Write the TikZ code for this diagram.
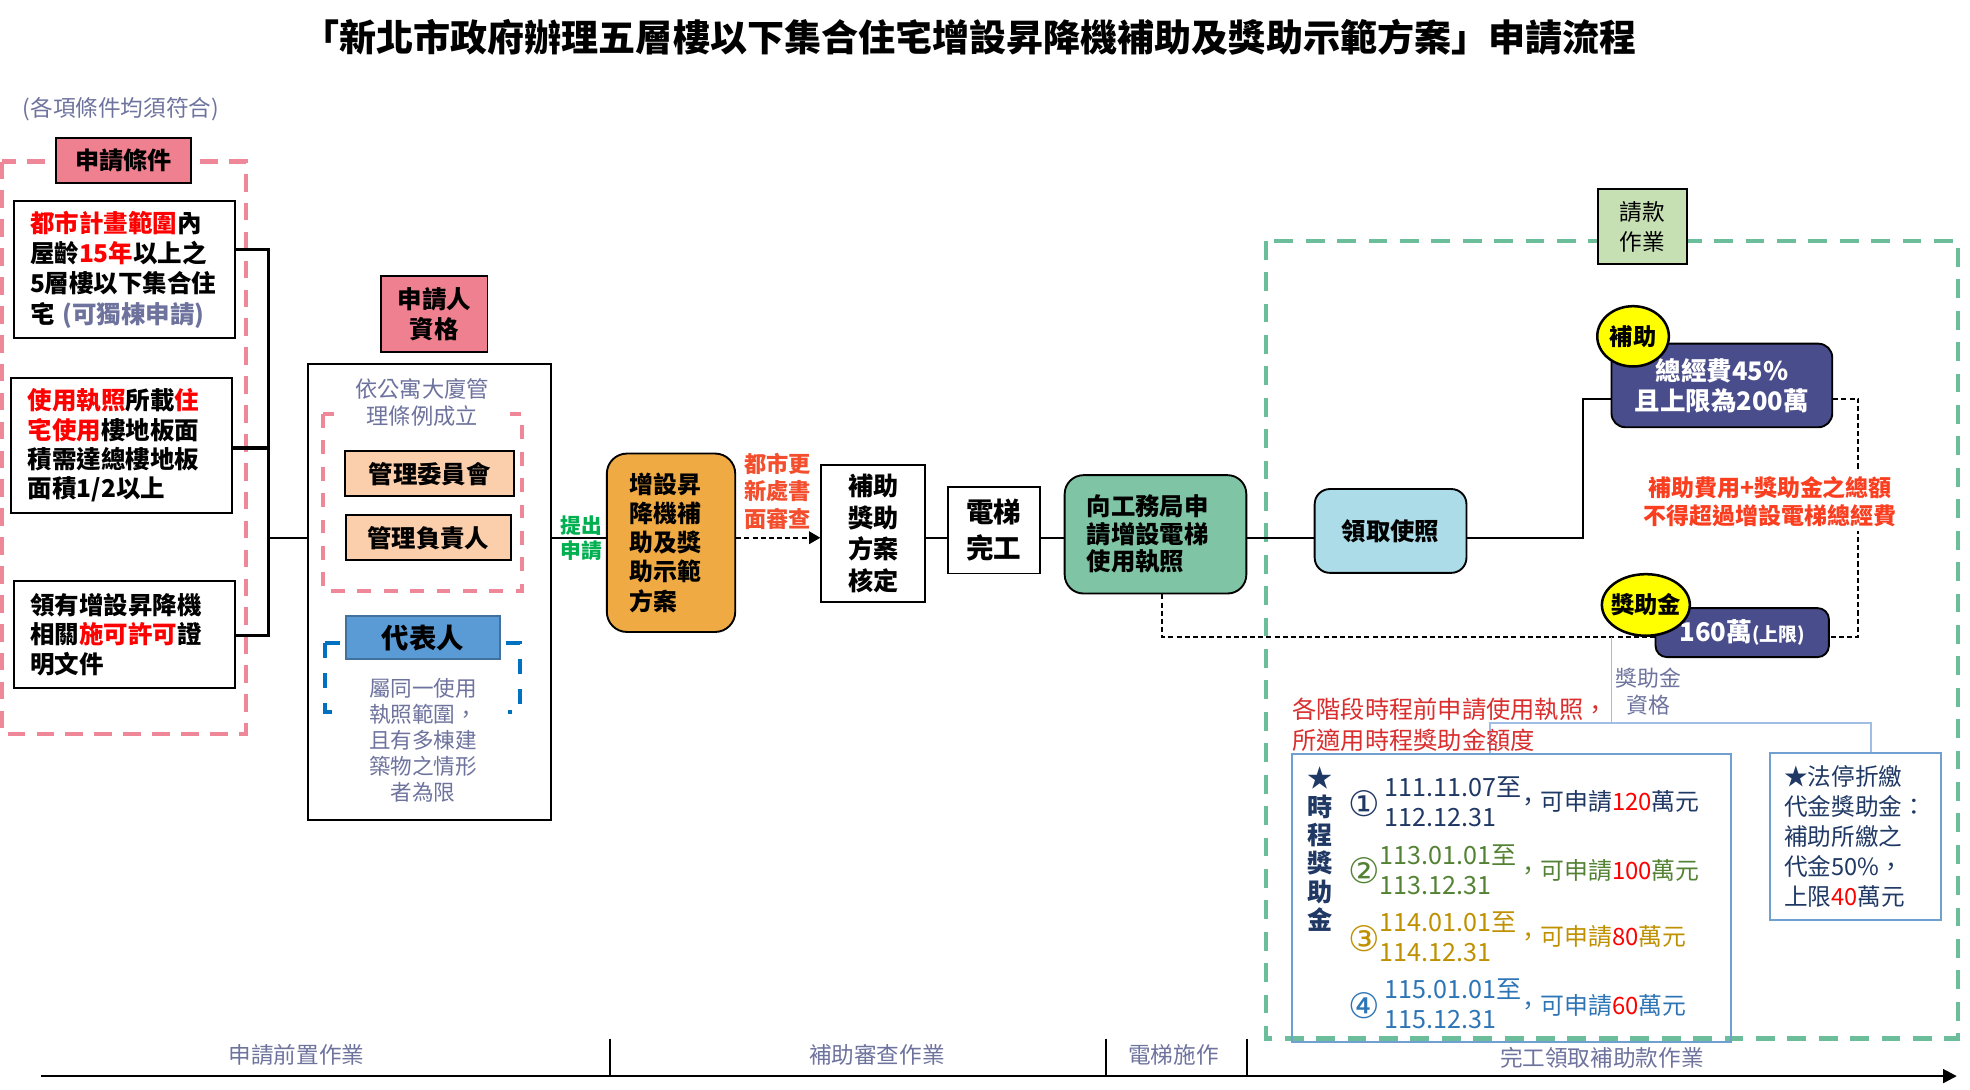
\documentclass[tikz,border=0pt]{standalone}
\usepackage{fontspec}
\setmainfont{Noto Sans CJK TC}
\newfontfamily\dvs{DejaVu Sans}
\usetikzlibrary{arrows.meta,shapes.geometric}
\pgfdeclarelayer{bg}
\pgfsetlayers{bg,main}
\newcommand\fsz[2]{\fontsize{#1}{#2}\selectfont}
\definecolor{gbt}{RGB}{110,115,158}
\definecolor{hl}{RGB}{255,0,0}
\definecolor{pinkd}{RGB}{238,136,152}
\definecolor{pinkf}{RGB}{238,128,143}
\definecolor{peach}{RGB}{251,206,172}
\definecolor{repf}{RGB}{91,155,213}
\definecolor{repb}{RGB}{65,113,156}
\definecolor{blued}{RGB}{0,112,192}
\definecolor{grn}{RGB}{0,176,80}
\definecolor{rdo}{RGB}{243,78,45}
\definecolor{orangef}{RGB}{240,170,68}
\definecolor{greenf}{RGB}{127,196,164}
\definecolor{lbf}{RGB}{172,220,232}
\definecolor{navyf}{RGB}{74,77,140}
\definecolor{yel}{RGB}{255,255,0}
\definecolor{rdn}{RGB}{250,62,32}
\definecolor{rdt}{RGB}{218,45,45}
\definecolor{lbr}{RGB}{112,160,210}
\definecolor{lblue}{RGB}{160,190,228}
\definecolor{navy}{RGB}{31,56,100}
\definecolor{ogreen}{RGB}{84,130,53}
\definecolor{ogold}{RGB}{191,144,0}
\definecolor{iblue}{RGB}{46,117,182}
\definecolor{greend}{RGB}{108,189,153}
\definecolor{lgf}{RGB}{198,224,180}
\begin{document}
\begin{tikzpicture}[x=1pt,y=-1pt,
  bx/.style={draw=black,line width=1.5pt,inner sep=0pt,align=center},
  pdash/.style={draw=pinkd,line width=3.5pt,dash pattern=on 14pt off 9pt},
  dsh/.style={draw=black,line width=1.4pt,dash pattern=on 4pt off 2.5pt},
  conn/.style={draw=black,line width=1.6pt},
  lbl/.style={draw=lblue,line width=1.3pt},
  plain/.style={inner sep=0pt,align=center},
  cnum/.style={plain,font=\dvs\fsz{28}{28}},
]
\useasboundingbox (0,0) rectangle (1568,867);

% title and note
\node[plain,font=\bfseries\fsz{29.5}{32}] (title) at (771.7,29.7) {「新北市政府辦理五層樓以下集合住宅增設昇降機補助及獎助示範方案」申請流程};
\node[plain,anchor=west,text=gbt,font=\fsz{18}{20}] (note) at (18,86.6) {(各項條件均須符合)};

% conditions
\node[bx,fill=pinkf,minimum width=107.4,minimum height=35.8,font=\bfseries\fsz{19.2}{22}] (hd1) at (98.3,127.5) {申請條件};
\node[bx,align=left,minimum height=109.5,text width=150,inner xsep=13.1,font=\bfseries\fsz{19.5}{24.2}] (b1) at (98.9,214.55)
 {\textcolor{hl}{都市計畫範圍}內\\屋齡\textcolor{hl}{15年}以上之\\5層樓以下集合住\\宅 \textcolor{gbt}{(可獨棟申請)}};
\node[bx,align=left,minimum height=107.9,text width=149.1,inner xsep=13.7,font=\bfseries\fsz{19.5}{23.4}] (b2) at (96.75,354.55)
 {\textcolor{hl}{使用執照}所載\textcolor{hl}{住}\\\textcolor{hl}{宅使用}樓地板面\\積需達總樓地板\\面積1/2以上};
\node[bx,align=left,minimum height=84.9,text width=150,inner xsep=13.1,font=\bfseries\fsz{19.5}{23.5}] (b3) at (98.9,505.05)
 {領有增設昇降機\\相關\textcolor{hl}{施可許可}證\\明文件};
\coordinate (j1) at (213.8,198.3);
\coordinate (j2) at (213.8,356.5);
\coordinate (j3) at (213.8,505.6);
\coordinate (jm) at (213.8,428);

% applicant
\node[bx,fill=pinkf,minimum width=84.6,minimum height=60,font=\bfseries\fsz{19.5}{23.5}] (qh) at (345.7,250) {申請人\\資格};
\node[bx,minimum width=193.4,minimum height=363.4] (app) at (342,471.2) {};
\node[plain,fill=white,inner ysep=1pt,minimum width=140,text=gbt,font=\fsz{17.7}{21.8}] (law) at (336,320.5) {依公寓大廈管\\理條例成立};
\node[bx,fill=peach,minimum width=135,minimum height=36,font=\bfseries\fsz{19.4}{22}] (m1) at (341.9,377) {管理委員會};
\node[bx,fill=peach,minimum width=131.3,minimum height=36,font=\bfseries\fsz{19.4}{22}] (m2) at (341,428) {管理負責人};
\node[bx,draw=repb,fill=repf,minimum width=122,minimum height=34,font=\bfseries\fsz{21.8}{24}] (rep) at (336.7,507.5) {代表人};
\node[plain,fill=white,minimum width=136,text=gbt,font=\fsz{17.2}{20.6}] (rept) at (336.7,589.2) {屬同一使用\\執照範圍，\\且有多棟建\\築物之情形\\者為限};

% main flow
\coordinate (fl) at (0,428);
\node[plain,text=grn,font=\bfseries\fsz{16.5}{19.5}] (sub) at (462.8,428.5) {提出\\申請};
\node[bx,rounded corners=16,fill=orangef,minimum width=102.2,minimum height=142,text width=66,inner xsep=18.1,align=left,font=\bfseries\fsz{19}{23.2}] (orng) at (534.1,432) {增設昇\\降機補\\助及獎\\助示範\\方案};
\node[plain,text=rdo,font=\bfseries\fsz{17.7}{21.9}] (urb) at (619,391) {都市更\\新處書\\面審查};
\node[bx,minimum width=82.6,minimum height=109,font=\bfseries\fsz{20}{25.2}] (k1) at (695,424.5) {補助\\獎助\\方案\\核定};
\node[bx,minimum width=73,minimum height=69,font=\bfseries\fsz{21.9}{29.2}] (k2) at (791,422) {電梯\\完工};
\node[bx,rounded corners=15,fill=greenf,minimum width=144.6,minimum height=94.2,text width=109.4,inner xsep=17.6,align=left,font=\bfseries\fsz{19.4}{21.9}] (gbx) at (919.7,425.3) {向工務局申\\請增設電梯\\使用執照};
\node[bx,rounded corners=12,fill=lbf,minimum width=120.8,minimum height=66.7,font=\bfseries\fsz{19.4}{22}] (lb) at (1106.8,422.6) {領取使照};

% payment area
\node[bx,fill=lgf,minimum width=71,minimum height=59.7,font=\fsz{18}{24.1}] (pay) at (1307.3,180.35) {請款\\作業};
\node[bx,rounded corners=11,fill=navyf,text=white,minimum width=175.7,minimum height=66.5,font=\bfseries\fsz{20.3}{24}] (db1) at (1370.5,306.8) {總經費45\%\\且上限為200萬};
\node[bx,ellipse,fill=yel,line width=2pt,minimum width=57,minimum height=48,font=\bfseries\fsz{18.5}{20}] (c1) at (1299.8,267.7) {\makebox[0pt]{補助}};
\node[plain,fill=white,inner xsep=2pt,inner ysep=3pt,text=rdn,font=\bfseries\fsz{18.3}{22.9}] (rn) at (1408.8,399.2) {補助費用+獎助金之總額\\不得超過增設電梯總經費};
\node[bx,rounded corners=9,fill=navyf,text=white,minimum width=138,minimum height=39,font=\bfseries\fsz{20.5}{22}] (db2) at (1386.7,503.5) {160萬{\fsz{15}{16}(上限)}};
\node[bx,ellipse,fill=yel,line width=2pt,minimum width=70,minimum height=49,font=\bfseries\fsz{18.5}{20}] (c2) at (1310,481.5) {\makebox[0pt]{獎助金}};
\node[plain,text=gbt,font=\fsz{17.4}{21.3}] (qual) at (1312,550.6) {獎助金\\資格};
\node[plain,anchor=west,align=left,text=rdt,font=\fsz{19.3}{25}] (stage) at (1028.4,576.7) {各階段時程前申請使用執照，\\所適用時程獎助金額度};
\coordinate (tb) at (1260,317.3);
\coordinate (rt) at (1479,317.3);
\coordinate (rb) at (1479,507.2);
\coordinate (dd) at (925,507.2);
\coordinate (lc0) at (1282.6,507.2);
\coordinate (lc1) at (1282.6,575.4);
\coordinate (ll) at (1185.7,575.4);
\coordinate (lr) at (1489,575.4);

% schedule box
\node[draw=lbr,line width=1.6pt,inner sep=0pt,minimum width=349.5,minimum height=229] (tbox) at (1202.75,714.8) {};
\node[plain,text=navy,font=\bfseries\fsz{20}{22.6}] (tcol) at (1050.7,676.1) {★\\時\\程\\獎\\助\\金};
\node[cnum,text=navy] (n1) at (1085.7,640) {①};
\node[plain,anchor=west,align=left,text=navy,font=\fsz{20}{24}] (d1) at (1102,638.2) {111.11.07至\\112.12.31};
\node[plain,anchor=west,text=navy,font=\fsz{19}{22}] (a1) at (1207,638.3) {，可申請\textcolor{hl}{120}萬元};
\node[cnum,text=ogreen] (n2) at (1085.7,693) {②};
\node[plain,anchor=west,align=left,text=ogreen,font=\fsz{20}{24}] (d2) at (1098,692.6) {113.01.01至\\113.12.31};
\node[plain,anchor=west,text=ogreen,font=\fsz{19}{22}] (a2) at (1207,692.7) {，可申請\textcolor{hl}{100}萬元};
\node[cnum,text=ogold] (n3) at (1085.7,747.4) {③};
\node[plain,anchor=west,align=left,text=ogold,font=\fsz{20}{24}] (d3) at (1098,745.8) {114.01.01至\\114.12.31};
\node[plain,anchor=west,text=ogold,font=\fsz{19}{22}] (a3) at (1207,745.8) {，可申請\textcolor{hl}{80}萬元};
\node[cnum,text=iblue] (n4) at (1085.7,800.5) {④};
\node[plain,anchor=west,align=left,text=iblue,font=\fsz{20}{24}] (d4) at (1102,798.8) {115.01.01至\\115.12.31};
\node[plain,anchor=west,text=iblue,font=\fsz{19}{22}] (a4) at (1207,800.2) {，可申請\textcolor{hl}{60}萬元};
\node[draw=lbr,line width=1.6pt,minimum width=136.2,minimum height=133.2,text width=114,inner xsep=11.1,inner ysep=0pt,align=left,text=navy,font=\fsz{18.8}{23.9}] (fbox) at (1477.1,665.9) {★法停折繳\\代金獎助金：\\補助所繳之\\代金50\%，\\上限\textcolor{hl}{40}萬元};

% bottom axis
\coordinate (ax0) at (33,856.5);
\coordinate (ax1) at (1557.5,856.5);
\coordinate (v1t) at (485.3,826.6);
\coordinate (v1b) at (485.3,856.5);
\coordinate (v2t) at (880,826.6);
\coordinate (v2b) at (880,856.5);
\coordinate (v3t) at (992.3,826.6);
\coordinate (v3b) at (992.3,856.5);
\node[plain,text=gbt,font=\fsz{18}{20}] (p1) at (236,840) {申請前置作業};
\node[plain,text=gbt,font=\fsz{18}{20}] (p2) at (698,840) {補助審查作業};
\node[plain,text=gbt,font=\fsz{18}{20}] (p3) at (934,840) {電梯施作};
\node[plain,text=gbt,font=\fsz{18}{20}] (p4) at (1275,842) {完工領取補助款作業};

\begin{pgfonlayer}{bg}
\draw[pdash] (1.5,128.6) rectangle (195.6,584);
\draw[pdash,dash pattern=on 11pt off 10pt] (257.3,329.6) rectangle (415.7,470.4);
\draw[draw=blued,line width=3.5pt,dash pattern=on 12pt off 12pt] (258.8,511.7) rectangle (414,566.6);
\draw[draw=greend,line width=3.5pt,dash pattern=on 15pt off 10pt] (1007.5,191.6) rectangle (1558.5,826.5);
\draw[conn,line width=2.6pt] (b1.east |- j1) -- (j1) -- (j3) -- (b3.east |- j3);
\draw[conn,line width=2.6pt] (b2.east |- j2) -- (j2);
\draw[conn] (jm) -- (app.west |- jm);
\draw[conn] (app.east |- fl) -- (orng.west |- fl);
\draw[dsh,-{Triangle[length=9pt,width=10pt]}] (orng.east |- fl) -- (k1.west |- fl);
\draw[conn] (k1.east |- fl) -- (k2.west |- fl);
\draw[conn] (k2.east |- fl) -- (gbx.west |- fl);
\draw[conn] (gbx.east |- fl) -- (lb.west |- fl);
\draw[conn] (lb.east |- fl) -| (tb) -- (db1.west |- tb);
\draw[dsh] (db1.east |- rt) -- (rt) -- (rb) -- (db2.east |- rb);
\draw[dsh] (gbx.south -| dd) -- (dd) -- (db2.west |- dd);
\draw[lbl] (lc0) -- (lc1);
\draw[lbl] (tbox.north -| ll) -- (ll) -- (lr) -- (fbox.north -| lr);
\draw[line width=2pt,-{Triangle[length=11pt,width=11pt]}] (ax0) -- (ax1);
\draw[line width=1.4pt] (v1t) -- (v1b);
\draw[line width=1.4pt] (v2t) -- (v2b);
\draw[line width=1.4pt] (v3t) -- (v3b);
\end{pgfonlayer}
\end{tikzpicture}
\end{document}
